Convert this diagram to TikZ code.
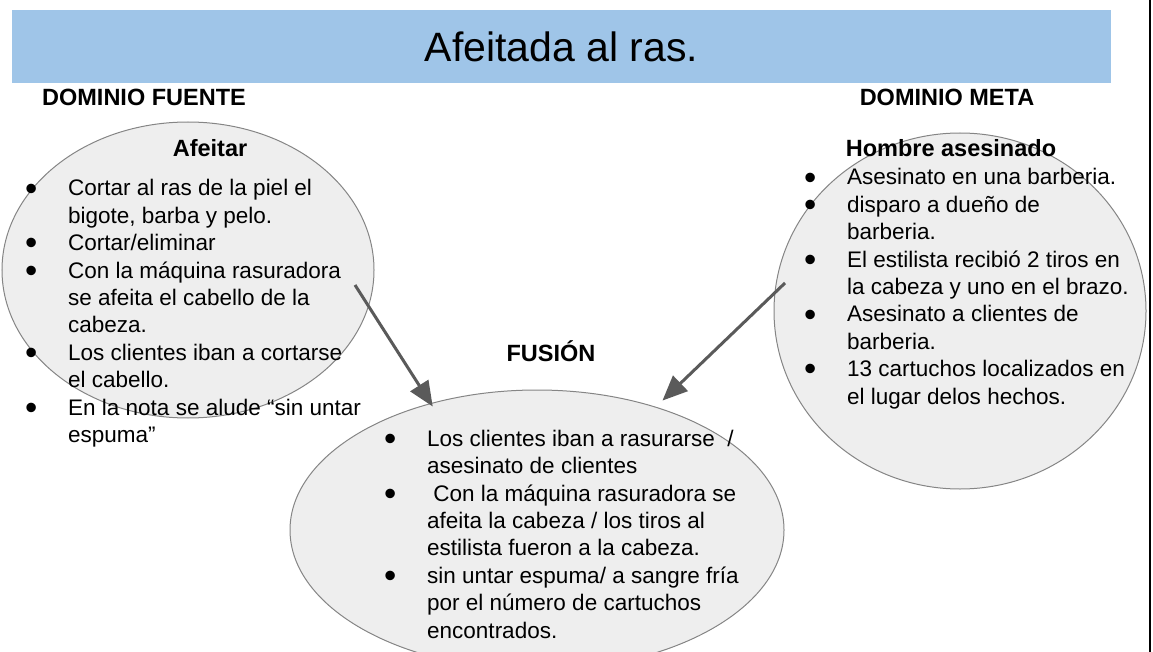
\documentclass[tikz,border=0pt]{standalone}
\usepackage{fontspec}
\setmainfont{Liberation Sans}
\usetikzlibrary{shapes.geometric}
\usetikzlibrary{arrows.meta}
\usepackage{xcolor}
\definecolor{bannerblue}{HTML}{9FC5E8}
\definecolor{ovalfill}{HTML}{EEEEEE}
\definecolor{ovaldraw}{HTML}{858585}
\definecolor{arrowgray}{HTML}{5A5A5A}
\newcommand{\bl}{\makebox[0pt]{\raisebox{-4.2pt}{\scalebox{1.55}{\textbullet}}}\hspace*{37pt}}
\newcommand{\cl}{\hspace*{37pt}}

\begin{document}
\begin{tikzpicture}[x=1pt,y=-1pt,
	oval/.style={ellipse,draw=ovaldraw,fill=ovalfill,line width=1pt,inner sep=0pt},
	items/.style={anchor=base west,align=left,inner sep=0pt,font=\fontsize{22.5}{27.4}\selectfont},
	head/.style={inner sep=0pt,font=\fontsize{23.5}{28}\selectfont\bfseries},
	link/.style={draw=arrowgray,line width=3pt,-{Triangle[length=25pt,width=21pt]}}]
	\useasboundingbox (0,0) rectangle (1153,652);
	\clip (0,0) rectangle (1153,652);
	\node[fill=bannerblue,inner sep=0pt,minimum width=1099pt,minimum height=73pt,
	font=\fontsize{41}{41}\selectfont] (title) at (561.5,46.5) {Afeitada al ras.};
	\draw[line width=1.5pt] (1150,0) -- (1150,652);
	
	\node[head] (fuentelbl) at (144,97) {DOMINIO FUENTE};
	\node[head] (metalbl) at (947,97) {DOMINIO META};
	
	\node[oval,minimum width=372pt,minimum height=296pt] (fuente) at (188,270) {};
	\node[oval,minimum width=372pt,minimum height=356pt] (meta) at (960,311) {};
	\node[oval,minimum width=494pt,minimum height=280pt] (fusion) at (537,530) {};
	
	\node[head] (afeitar) at (210,148) {Afeitar};
	\node[head] (hombre) at (951,148) {Hombre asesinado};
	\node[head] (fusionlbl) at (551,351) {FUSIÓN};
	
	\node[items] (fuentetxt) at (31,442.5) {\bl Cortar al ras de la piel el\\
		\cl bigote, barba y pelo.\\
		\bl Cortar/eliminar\\
		\bl Con la máquina rasuradora\\
		\cl se afeita el cabello de la\\
		\cl cabeza.\\
		\bl Los clientes iban a cortarse\\
		\cl el cabello.\\
		\bl En la nota se alude “sin untar\\
		\cl espuma”};
	\node[items] (metatxt) at (810,404) {\bl Asesinato en una barberia.\\
		\bl disparo a dueño de\\
		\cl barberia.\\
		\bl El estilista recibió 2 tiros en\\
		\cl la cabeza y uno en el brazo.\\
		\bl Asesinato a clientes de\\
		\cl barberia.\\
		\bl 13 cartuchos localizados en\\
		\cl el lugar delos hechos.};
	\node[items] (fusiontxt) at (390,638) {\bl Los clientes iban a rasurarse\ \ /\\
		\cl asesinato de clientes\\
		\bl \ Con la máquina rasuradora se\\
		\cl afeita la cabeza / los tiros al\\
		\cl estilista fueron a la cabeza.\\
		\bl sin untar espuma/ a sangre fría\\
		\cl por el número de cartuchos\\
		\cl encontrados.};
	
	\coordinate (fuenteout) at (355,285);
	\coordinate (metaout) at (785,283);
	\draw[link,shorten >=-4pt] (fuenteout) -- (fusion.130);
	\draw[link,shorten >=9pt] (metaout) -- (fusion.46);
\end{tikzpicture}
\end{document}
